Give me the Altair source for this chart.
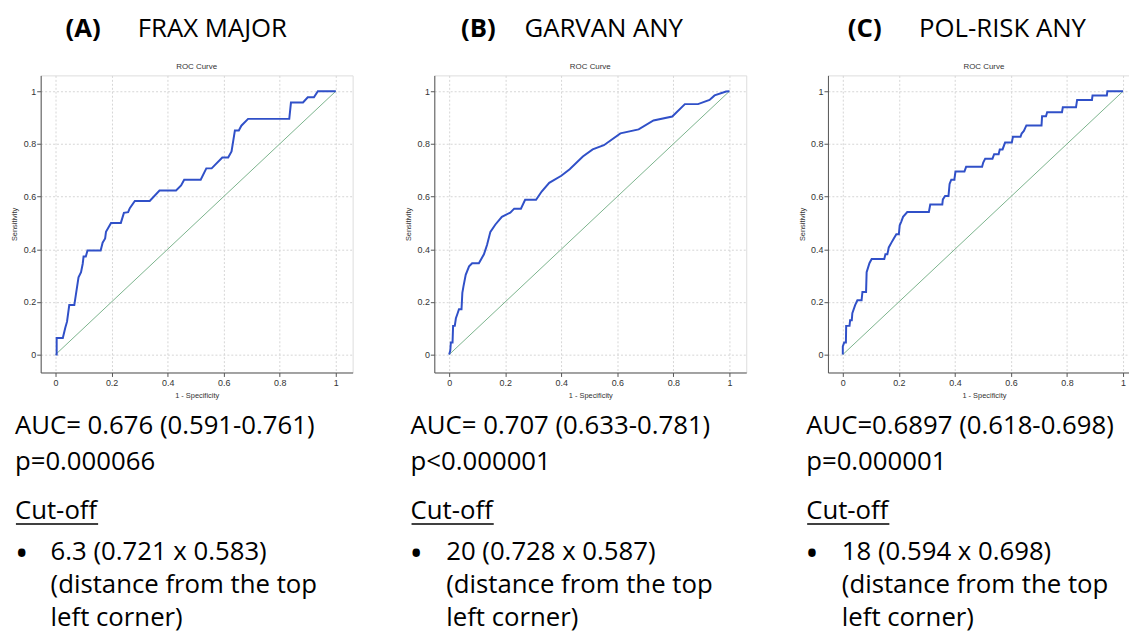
import altair as alt
import pandas as pd

# ---------------- data ----------------
fpr_a = [0.0, 0.004, 0.004, 0.026, 0.035, 0.041, 0.049, 0.067, 0.082, 0.091, 0.097, 0.100,
         0.108, 0.114, 0.161, 0.168, 0.177, 0.180, 0.198, 0.233, 0.244, 0.259, 0.265, 0.283,
         0.336, 0.371, 0.430, 0.448, 0.459, 0.518, 0.538, 0.557, 0.595, 0.616, 0.628, 0.640,
         0.654, 0.663, 0.687, 0.834, 0.840, 0.883, 0.900, 0.922, 0.936, 1.0]
tpr_a = [0.0, 0.0, 0.063, 0.063, 0.103, 0.125, 0.188, 0.188, 0.293, 0.313, 0.345, 0.372,
         0.372, 0.395, 0.395, 0.425, 0.441, 0.466, 0.500, 0.500, 0.538, 0.541, 0.556, 0.583,
         0.583, 0.623, 0.623, 0.642, 0.664, 0.664, 0.707, 0.707, 0.748, 0.748, 0.771, 0.851,
         0.851, 0.869, 0.895, 0.895, 0.957, 0.957, 0.977, 0.977, 1.0, 1.0]

fpr_b = [0.0, 0.004, 0.006, 0.012, 0.014, 0.020, 0.024, 0.029, 0.035, 0.044, 0.047, 0.051,
         0.059, 0.071, 0.082, 0.106, 0.124, 0.135, 0.147, 0.165, 0.188, 0.218, 0.232, 0.256,
         0.271, 0.310, 0.330, 0.357, 0.400, 0.430, 0.477, 0.512, 0.552, 0.611, 0.676, 0.729,
         0.796, 0.841, 0.888, 0.929, 0.947, 0.988, 1.0]
tpr_b = [0.0, 0.015, 0.046, 0.046, 0.109, 0.109, 0.138, 0.153, 0.172, 0.172, 0.234, 0.259,
         0.303, 0.335, 0.347, 0.347, 0.381, 0.416, 0.466, 0.494, 0.523, 0.539, 0.554, 0.554,
         0.588, 0.588, 0.619, 0.652, 0.679, 0.704, 0.752, 0.779, 0.795, 0.840, 0.855, 0.889,
         0.904, 0.951, 0.951, 0.967, 0.984, 0.999, 1.0]

fpr_c = [0.0, 0.0, 0.005, 0.011, 0.012, 0.024, 0.026, 0.032, 0.034, 0.044, 0.052, 0.067,
         0.070, 0.083, 0.085, 0.095, 0.103, 0.148, 0.152, 0.159, 0.164, 0.174, 0.182, 0.191,
         0.200, 0.203, 0.209, 0.215, 0.230, 0.307, 0.312, 0.355, 0.357, 0.365, 0.377, 0.381,
         0.387, 0.398, 0.402, 0.434, 0.440, 0.497, 0.501, 0.508, 0.534, 0.540, 0.556, 0.560,
         0.570, 0.579, 0.603, 0.607, 0.634, 0.638, 0.646, 0.655, 0.709, 0.711, 0.725, 0.729,
         0.782, 0.785, 0.832, 0.836, 0.889, 0.891, 0.942, 0.944, 1.0]
tpr_c = [0.0, 0.031, 0.046, 0.046, 0.109, 0.109, 0.130, 0.130, 0.157, 0.188, 0.206, 0.206,
         0.238, 0.238, 0.313, 0.347, 0.363, 0.363, 0.381, 0.381, 0.407, 0.426, 0.441, 0.457,
         0.457, 0.491, 0.506, 0.523, 0.541, 0.541, 0.570, 0.570, 0.589, 0.602, 0.602, 0.648,
         0.664, 0.664, 0.695, 0.695, 0.713, 0.713, 0.729, 0.744, 0.744, 0.761, 0.761, 0.779,
         0.779, 0.805, 0.805, 0.827, 0.827, 0.839, 0.849, 0.870, 0.870, 0.905, 0.905, 0.920,
         0.920, 0.939, 0.939, 0.967, 0.967, 0.984, 0.984, 1.0, 1.0]

diag_x = [0.0, 1.0]
diag_y = [0.0, 1.0]
tick_values = [0, 0.2, 0.4, 0.6, 0.8, 1]

panel_labels = ["(A)", "(B)", "(C)"]
panel_names = ["FRAX MAJOR", "GARVAN ANY", "POL-RISK ANY"]
auc_lines = ["AUC= 0.676 (0.591-0.761)", "AUC= 0.707 (0.633-0.781)", "AUC=0.6897 (0.618-0.698)"]
p_lines = ["p=0.000066", "p<0.000001", "p=0.000001"]
cut_lines = ["6.3 (0.721 x 0.583)", "20 (0.728 x 0.587)", "18 (0.594 x 0.698)"]
note_line1 = "(distance from the top"
note_line2 = "left corner)"

# ---------------- styling ----------------
FONT = "Open Sans"
AXFONT = "Liberation Sans"
BIG = 26
W, H = 315, 300
BLUE = "#3050c8"
GREEN = "#7ab38c"
FRAME = "#555555"

one_row = pd.DataFrame({"k": [0]})


def txt(s, x, y, size=BIG, weight="normal", align="left", baseline="alphabetic",
        color="black", font=FONT):
    return alt.Chart(one_row).mark_text(
        text=s, align=align, baseline=baseline, font=font, fontSize=size,
        fontWeight=weight, color=color
    ).encode(x=alt.value(x), y=alt.value(y))


def panel(fpr, tpr, label, name, auc, pval, cut, lab_x, name_x, text_x, bul_x):
    df = pd.DataFrame({"fpr": fpr, "tpr": tpr, "i": list(range(len(fpr)))})
    dd = pd.DataFrame({"fpr": diag_x, "tpr": diag_y})
    xs = alt.Scale(domain=[-0.053, 1.06], nice=False, zero=False)
    ys = alt.Scale(domain=[-0.068, 1.06], nice=False, zero=False)
    common = dict(values=tick_values, format="~g", grid=True, gridColor="#d6d6d6",
                  gridDash=[2, 2], gridWidth=1, tickSize=4, tickColor=FRAME,
                  domainColor=FRAME, labelFont=AXFONT, labelFontSize=9,
                  labelColor="#333333", titleFont=AXFONT, titleFontSize=7.5,
                  titleFontWeight="normal", titleColor="#333333")
    xaxis = alt.Axis(title="1 - Specificity", labelPadding=2, titleY=23,
                     titleBaseline="middle", **common)
    yaxis = alt.Axis(title="Sensitivity", labelPadding=1, titleX=-26,
                     titleBaseline="middle", **common)
    diag = alt.Chart(dd).mark_line(color=GREEN, strokeWidth=1).encode(
        x=alt.X("fpr:Q", scale=xs, axis=xaxis), y=alt.Y("tpr:Q", scale=ys, axis=yaxis))
    curve = alt.Chart(df).mark_line(color=BLUE, strokeWidth=2).encode(
        x=alt.X("fpr:Q", scale=xs), y=alt.Y("tpr:Q", scale=ys), order="i:Q")
    underline = alt.Chart(one_row).mark_rule(color="black", strokeWidth=1.5).encode(
        x=alt.value(text_x + 1), x2=alt.value(text_x + 84), y=alt.value(453))
    layers = [
        diag, curve,
        txt("ROC Curve", W / 2, -8, size=8, align="center", baseline="middle",
            color="#333333", font=AXFONT),
        txt(label, lab_x, -39, weight="bold"),
        txt(name, name_x, -39),
        txt(auc, text_x, 362),
        txt(pval, text_x, 398),
        txt("Cut-off", text_x, 448),
        underline,
        txt("\u2022", bul_x - 2, 495, size=36),
        txt(cut, text_x + 36, 489),
        txt(note_line1, text_x + 36, 523),
        txt(note_line2, text_x + 36, 556),
    ]
    return alt.layer(*layers).properties(width=W, height=H)


pa = panel(fpr_a, tpr_a, panel_labels[0], panel_names[0], auc_lines[0], p_lines[0],
           cut_lines[0], 25, 98, -26, -24)
pb = panel(fpr_b, tpr_b, panel_labels[1], panel_names[1], auc_lines[1], p_lines[1],
           cut_lines[1], 27, 91, -24, -23)
pc = panel(fpr_c, tpr_c, panel_labels[2], panel_names[2], auc_lines[2], p_lines[2],
           cut_lines[2], 20, 92, -22, -21)

chart = alt.hconcat(pa, pb, pc, spacing=82.5, bounds="flush").properties(
    padding={"left": 2, "top": 4, "right": -12, "bottom": -1}
).configure_view(stroke=FRAME, strokeWidth=1).configure(background="white")

chart.save("out.html", embed_options={"renderer": "svg", "actions": False})
